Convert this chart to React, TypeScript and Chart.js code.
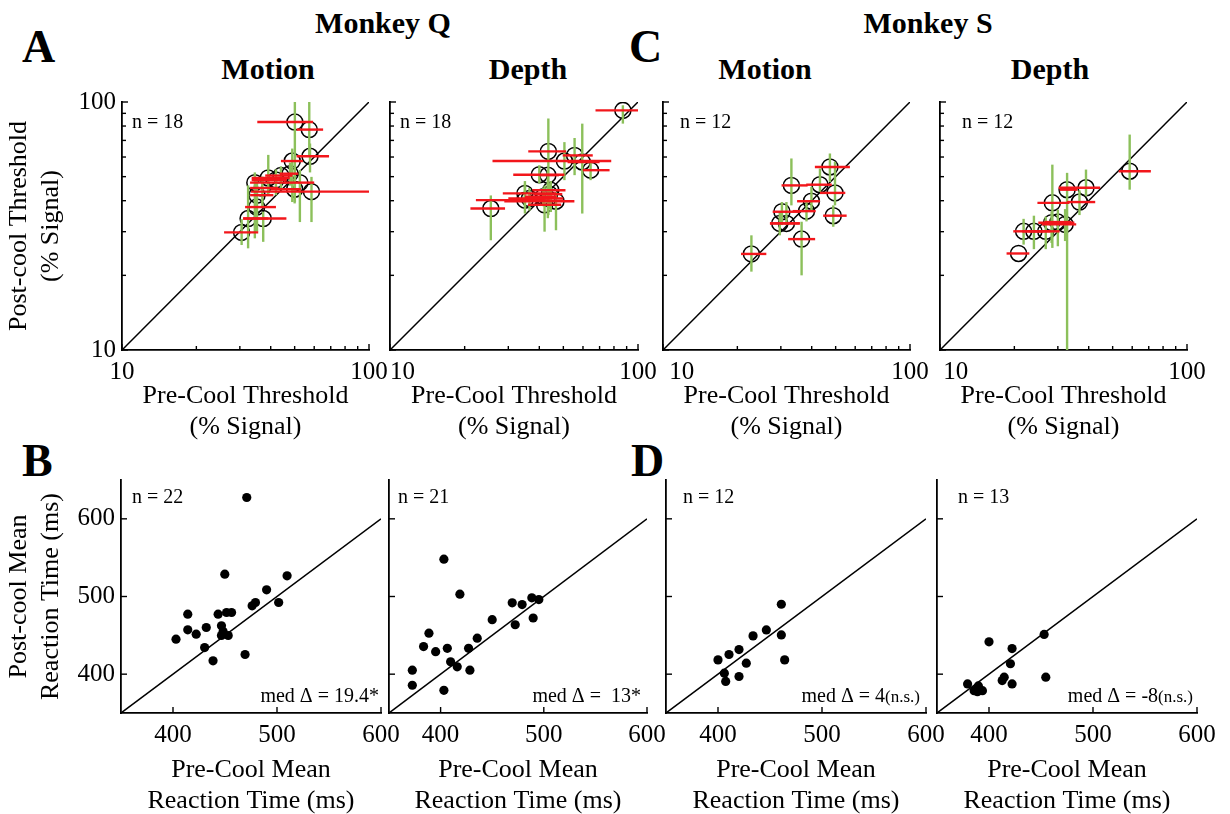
import { useEffect, useRef } from 'react';
import Chart from 'chart.js/auto';

const SERIF = '"Liberation Serif", "Times New Roman", Times, serif';
Chart.defaults.font.family = SERIF;
Chart.defaults.color = '#000';

const RED = '#f2161b';
const GREEN = '#8cc05b';

// axes
const THR_RANGE = [10, 100];
const THR_TICKS = [10, 20, 30, 40, 50, 60, 70, 80, 90, 100];
const THR_LABELS = [10, 100];
const RT_X_RANGE = [350, 600];
const RT_Y_RANGE = [350, 650];
const RT_TICKS = [400, 500, 600];

// Monkey Q, motion thresholds (% signal)
const qMotionPre = [50.1, 57.3, 57.7, 48.9, 47.9, 52.5, 39.1, 34.5, 42.0, 58.5, 35.2, 32.4, 37.3, 30.5, 35.1, 44.0, 37.0, 50.0];
const qMotionPost = [83.0, 77.4, 60.4, 57.8, 51.4, 47.3, 49.4, 47.3, 48.5, 43.5, 42.1, 33.9, 33.9, 29.8, 37.7, 50.5, 45.0, 44.5];
const qMotionPreLo = [35.3, 50.9, 50.9, 44.0, 43.6, 45.5, 33.5, 33.0, 33.5, 33.3, 33.0, 30.9, 31.0, 25.9, 31.5, 38.0, 33.0, 40.0];
const qMotionPreHi = [59.4, 65.2, 68.9, 54.0, 51.7, 60.0, 47.8, 46.0, 46.5, 100, 41.0, 46.3, 39.1, 35.6, 42.0, 49.0, 43.0, 53.0];
const qMotionPostLo = [39.5, 60.9, 52.0, 39.5, 46.0, 32.8, 42.1, 28.2, 42.1, 32.8, 30.0, 25.7, 27.3, 26.5, 30.5, 45.0, 38.0, 39.0];
const qMotionPostHi = [100, 100, 68.0, 64.9, 57.0, 53.2, 61.2, 52.0, 53.5, 49.9, 48.0, 46.1, 36.1, 33.7, 44.0, 55.0, 50.0, 49.0];

// Monkey Q, depth thresholds
const qDepthPre = [86.9, 43.5, 50.5, 55.5, 59.6, 64.4, 40.0, 43.3, 35.0, 35.0, 43.3, 46.7, 25.5, 44.5, 42.0, 44.0, 41.5, 36.5];
const qDepthPost = [92.5, 63.2, 57.8, 60.9, 57.3, 53.1, 50.9, 50.7, 42.8, 40.2, 40.8, 39.8, 37.2, 44.1, 38.5, 42.5, 41.5, 40.8];
const qDepthPreLo = [67.4, 36.1, 25.9, 49.7, 52.0, 59.9, 31.4, 40.0, 28.5, 22.2, 37.0, 28.9, 21.1, 37.5, 36.0, 38.0, 35.0, 30.0];
const qDepthPreHi = [100, 51.3, 78.0, 65.7, 70.0, 76.8, 50.5, 48.0, 46.7, 42.0, 50.0, 55.4, 29.1, 51.0, 49.0, 49.5, 47.0, 44.0];
const qDepthPostLo = [81.8, 35.0, 48.4, 50.7, 35.5, 48.4, 46.9, 44.0, 38.0, 35.5, 34.0, 30.4, 27.7, 36.0, 30.0, 37.0, 38.0, 36.5];
const qDepthPostHi = [97.0, 85.8, 68.9, 71.6, 81.8, 57.8, 55.6, 53.0, 48.0, 46.8, 47.0, 43.3, 42.0, 48.0, 46.0, 47.0, 45.0, 45.0];

// Monkey S, motion thresholds
const sMotionPre = [22.8, 29.7, 31.6, 30.3, 33.1, 38.1, 39.9, 36.4, 43.2, 47.4, 49.7, 48.9];
const sMotionPost = [24.4, 32.4, 32.4, 36.1, 46.1, 36.3, 39.8, 28.0, 46.4, 54.7, 43.0, 34.8];
const sMotionPreLo = [20.7, 27.1, 27.1, 27.8, 30.2, 33.5, 34.9, 32.1, 38.0, 41.2, 43.2, 44.5];
const sMotionPreHi = [26.2, 35.8, 35.8, 35.8, 38.5, 41.5, 43.2, 41.3, 48.2, 57.1, 54.7, 55.4];
const sMotionPostLo = [20.7, 29.0, 31.9, 31.9, 38.3, 33.0, 36.6, 20.0, 43.4, 47.6, 38.3, 31.4];
const sMotionPostHi = [29.0, 36.0, 39.5, 39.5, 59.2, 40.0, 45.5, 32.9, 53.9, 62.0, 57.4, 38.3];

// Monkey S, depth thresholds
const sDepthPre = [58.6, 39.0, 32.7, 36.7, 28.5, 28.3, 32.1, 30.0, 26.8, 24.0, 21.8, 20.8];
const sDepthPost = [52.6, 45.1, 44.3, 39.5, 39.2, 32.6, 32.1, 32.8, 30.1, 30.1, 30.1, 24.5];
const sDepthPreLo = [52.9, 30.2, 30.5, 32.7, 24.8, 25.0, 25.8, 26.5, 23.0, 21.5, 19.8, 18.6];
const sDepthPreHi = [71.4, 44.5, 36.0, 42.5, 33.4, 35.0, 35.6, 34.0, 30.5, 28.0, 26.2, 23.0];
const sDepthPostLo = [44.3, 41.7, 10.0, 35.0, 25.8, 27.0, 27.5, 26.2, 25.5, 25.5, 26.6, 24.5];
const sDepthPostHi = [73.9, 53.4, 51.8, 44.0, 55.9, 36.0, 37.0, 36.8, 34.5, 34.8, 33.8, 24.5];

// mean reaction times (ms)
const qMotionRtPre = [470.9, 449.8, 509.7, 490.0, 479.3, 476.1, 501.6, 414.2, 443.4, 451.5, 456.3, 414.2, 432.0, 422.3, 402.9, 446.6, 448.2, 446.6, 453.1, 430.4, 438.5, 469.3];
const qMotionRtPost = [627.5, 528.8, 526.6, 508.6, 492.3, 488.0, 492.3, 477.3, 477.3, 479.4, 479.4, 457.1, 460.1, 451.5, 445.1, 462.2, 455.0, 449.8, 449.8, 434.3, 417.2, 425.3];
const qDepthRtPre = [403.2, 418.7, 469.4, 479.0, 488.4, 495.2, 489.7, 472.3, 450.0, 435.5, 388.7, 383.5, 395.2, 406.5, 427.1, 409.7, 416.1, 428.4, 372.6, 372.6, 403.2];
const qDepthRtPost = [548.1, 503.0, 491.8, 489.6, 498.3, 496.1, 472.3, 463.6, 470.1, 446.3, 452.8, 435.5, 429.0, 433.3, 433.3, 416.0, 409.5, 405.2, 405.2, 385.7, 379.2];
const sMotionRtPre = [460.9, 446.5, 460.9, 433.7, 420.2, 410.6, 400.0, 427.2, 464.1, 406.1, 420.2, 407.4];
const sMotionRtPost = [490.0, 457.0, 450.5, 449.3, 431.7, 425.3, 418.4, 414.1, 418.4, 401.3, 397.0, 390.6];
const sDepthRtPre = [453.0, 400.0, 422.2, 420.6, 414.6, 412.7, 422.2, 454.6, 379.4, 389.8, 385.7, 393.7, 388.9];
const sDepthRtPost = [451.2, 441.6, 433.0, 413.4, 396.1, 391.8, 387.4, 396.1, 387.4, 384.8, 378.7, 378.7, 377.4];

const PAD_T = 12;
const PAD_R = 25;

type PanelProps = {
  kind: 'thr' | 'rt';
  left: number;
  top: number;
  width: number;
  height: number;
  padL: number;
  padB: number;
  pre: number[];
  post: number[];
  preLo?: number[];
  preHi?: number[];
  postLo?: number[];
  postHi?: number[];
  yLabels?: boolean;
  firstPad?: number;
  nText: string;
  nDx: number;
  nDy: number;
  med?: string;
  medNote?: string;
  medDx?: number;
};

function Panel(p: PanelProps) {
  const ref = useRef<HTMLCanvasElement>(null);
  const w = p.padL + p.width + PAD_R;
  const h = PAD_T + p.height + p.padB;

  useEffect(() => {
    if (!ref.current) return;
    const thr = p.kind === 'thr';
    const xr = thr ? THR_RANGE : RT_X_RANGE;
    const yr = thr ? THR_RANGE : RT_Y_RANGE;
    const tickVals = thr ? THR_TICKS : RT_TICKS;
    const labelVals = thr ? THR_LABELS : RT_TICKS;
    const type = thr ? 'logarithmic' : 'linear';
    const tickFont = { size: 25 };
    const titleFont = { size: 26, lineHeight: 1.2 };
    const setTicks = (s: any) => {
      s.ticks = tickVals.map((value) => ({ value }));
    };
    const label = (v: number, first: number) =>
      labelVals.includes(v) ? (v === first && p.firstPad ? ' '.repeat(p.firstPad) + v : String(v)) : '';

    // error bars, inward tick marks and panel notes
    const decor = {
      id: 'decor',
      afterDatasetsDraw(chart: any) {
        if (!p.preLo || !p.preHi || !p.postLo || !p.postHi) return;
        const { ctx, chartArea: a, scales: { x, y } } = chart;
        ctx.save();
        ctx.beginPath();
        ctx.rect(a.left, a.top, a.right - a.left, a.bottom - a.top);
        ctx.clip();
        ctx.lineWidth = 2.4;
        ctx.strokeStyle = GREEN;
        p.pre.forEach((v, i) => {
          const px = x.getPixelForValue(v);
          ctx.beginPath();
          ctx.moveTo(px, y.getPixelForValue(p.postLo![i]));
          ctx.lineTo(px, y.getPixelForValue(p.postHi![i]));
          ctx.stroke();
        });
        ctx.strokeStyle = RED;
        p.post.forEach((v, i) => {
          const py = y.getPixelForValue(v);
          ctx.beginPath();
          ctx.moveTo(x.getPixelForValue(p.preLo![i]), py);
          ctx.lineTo(x.getPixelForValue(p.preHi![i]), py);
          ctx.stroke();
        });
        ctx.restore();
      },
      afterDraw(chart: any) {
        const { ctx, chartArea: a, scales: { x, y } } = chart;
        ctx.save();
        ctx.strokeStyle = '#000';
        ctx.lineWidth = 1.4;
        x.ticks.forEach((t: any) => {
          const px = x.getPixelForValue(t.value);
          const len = labelVals.includes(t.value) ? 6 : 4;
          ctx.beginPath();
          ctx.moveTo(px, a.bottom);
          ctx.lineTo(px, a.bottom - len);
          ctx.stroke();
        });
        y.ticks.forEach((t: any) => {
          const py = y.getPixelForValue(t.value);
          const len = labelVals.includes(t.value) ? 6 : 4;
          ctx.beginPath();
          ctx.moveTo(a.left, py);
          ctx.lineTo(a.left + len, py);
          ctx.stroke();
        });
        ctx.fillStyle = '#000';
        ctx.textBaseline = 'alphabetic';
        ctx.font = `20px ${SERIF}`;
        ctx.textAlign = 'left';
        ctx.fillText(p.nText, a.left + p.nDx, a.top + p.nDy);
        if (p.med) {
          ctx.textAlign = 'right';
          let rx = a.right - (p.medDx ?? 6);
          const by = a.bottom - 11;
          if (p.medNote) {
            ctx.font = `17px ${SERIF}`;
            ctx.fillText(p.medNote, rx, by);
            rx -= ctx.measureText(p.medNote).width;
            ctx.font = `20px ${SERIF}`;
          }
          ctx.fillText(p.med, rx, by);
        }
        ctx.restore();
      },
    };

    const chart = new Chart(ref.current, {
      type: 'scatter',
      data: {
        datasets: [
          {
            data: p.pre.map((x, i) => ({ x, y: p.post[i] })),
            pointRadius: thr ? 8 : 4.6,
            pointBorderWidth: thr ? 1.5 : 0,
            pointBorderColor: '#000',
            pointBackgroundColor: thr ? 'rgba(0,0,0,0)' : '#000',
          },
          {
            data: xr.map((v) => ({ x: v, y: v })),
            showLine: true,
            borderColor: '#000',
            borderWidth: 1.5,
            pointRadius: 0,
          },
        ],
      },
      options: {
        animation: false,
        responsive: false,
        events: [],
        layout: { padding: { left: 0, top: PAD_T, right: PAD_R, bottom: 0 } },
        plugins: { legend: { display: false }, tooltip: { enabled: false } },
        scales: {
          x: {
            type,
            min: xr[0],
            max: xr[1],
            grid: { display: false, drawTicks: false },
            border: { display: true, color: '#000', width: 1.8 },
            afterBuildTicks: setTicks,
            ticks: {
              autoSkip: false,
              maxRotation: 0,
              padding: 7,
              font: tickFont,
              color: '#000',
              callback: (v: any) => label(Number(v), xr[0]),
            },
            title: {
              display: true,
              text: thr ? ['Pre-Cool Threshold', '(% Signal)'] : ['Pre-Cool Mean', 'Reaction Time (ms)'],
              font: titleFont,
              color: '#000',
              padding: 0,
            },
            afterFit: (s: any) => {
              s.height = p.padB;
              s.paddingLeft = 0;
              s.paddingRight = 0;
            },
          },
          y: {
            type,
            min: yr[0],
            max: yr[1],
            grid: { display: false, drawTicks: false },
            border: { display: true, color: '#000', width: 1.8 },
            afterBuildTicks: setTicks,
            ticks: {
              display: !!p.yLabels,
              autoSkip: false,
              padding: 6,
              font: tickFont,
              color: '#000',
              callback: (v: any) => label(Number(v), -1),
            },
            title: {
              display: !!p.yLabels,
              text: thr ? ['Post-cool Threshold', '(% Signal)'] : ['Post-cool Mean', 'Reaction Time (ms)'],
              font: titleFont,
              color: '#000',
              padding: { top: 4, bottom: 0 },
            },
            afterFit: (s: any) => {
              s.width = p.padL;
              s.paddingTop = 0;
              s.paddingBottom = 0;
            },
          },
        },
      } as any,
      plugins: [decor],
    });
    return () => chart.destroy();
  }, [p]);

  return (
    <canvas
      ref={ref}
      width={w}
      height={h}
      style={{ position: 'absolute', left: p.left - p.padL, top: p.top - PAD_T, width: w, height: h }}
    />
  );
}

function Heading({ text, x, y, size, center }: { text: string; x: number; y: number; size: number; center?: boolean }) {
  return (
    <div
      style={{
        position: 'absolute',
        left: x,
        top: y,
        fontSize: size,
        fontWeight: 'bold',
        lineHeight: 1,
        whiteSpace: 'nowrap',
        transform: center ? 'translateX(-50%)' : undefined,
      }}
    >
      {text}
    </div>
  );
}

export default function App() {
  return (
    <div
      style={{
        position: 'absolute',
        left: 0,
        top: 0,
        width: 1230,
        height: 814,
        overflow: 'hidden',
        background: '#fff',
        fontFamily: SERIF,
        color: '#000',
      }}
    >
      <Heading text="Monkey Q" x={383} y={8} size={30} center />
      <Heading text="Monkey S" x={928} y={8} size={30} center />
      <Heading text="Motion" x={268} y={54} size={30} center />
      <Heading text="Depth" x={528} y={54} size={30} center />
      <Heading text="Motion" x={765} y={54} size={30} center />
      <Heading text="Depth" x={1050} y={54} size={30} center />
      <Heading text="A" x={22} y={24} size={46} />
      <Heading text="B" x={22} y={438} size={46} />
      <Heading text="C" x={629} y={24} size={46} />
      <Heading text="D" x={631} y={438} size={46} />

      <Panel kind="thr" left={122} top={102} width={247} height={248} padL={122} padB={93}
        pre={qMotionPre} post={qMotionPost} preLo={qMotionPreLo} preHi={qMotionPreHi}
        postLo={qMotionPostLo} postHi={qMotionPostHi} yLabels nText="n = 18" nDx={10} nDy={26} />
      <Panel kind="thr" left={390} top={102} width={248} height={248} padL={12} padB={93}
        pre={qDepthPre} post={qDepthPost} preLo={qDepthPreLo} preHi={qDepthPreHi}
        postLo={qDepthPostLo} postHi={qDepthPostHi} firstPad={4} nText="n = 18" nDx={10} nDy={26} />
      <Panel kind="thr" left={663} top={102} width={247} height={248} padL={12} padB={93}
        pre={sMotionPre} post={sMotionPost} preLo={sMotionPreLo} preHi={sMotionPreHi}
        postLo={sMotionPostLo} postHi={sMotionPostHi} firstPad={6} nText="n = 12" nDx={17} nDy={26} />
      <Panel kind="thr" left={940} top={102} width={247} height={248} padL={12} padB={93}
        pre={sDepthPre} post={sDepthPost} preLo={sDepthPreLo} preHi={sDepthPreHi}
        postLo={sDepthPostLo} postHi={sDepthPostHi} firstPad={5} nText="n = 12" nDx={22} nDy={26} />

      <Panel kind="rt" left={121} top={480} width={260} height={233} padL={121} padB={104}
        pre={qMotionRtPre} post={qMotionRtPost} yLabels nText="n = 22" nDx={11} nDy={23}
        med="med Δ = 19.4*" medDx={2} />
      <Panel kind="rt" left={389} top={480} width={258} height={233} padL={12} padB={104}
        pre={qDepthRtPre} post={qDepthRtPost} nText="n = 21" nDx={9} nDy={23}
        med="med Δ =  13*" medDx={6} />
      <Panel kind="rt" left={666} top={480} width={260} height={233} padL={12} padB={104}
        pre={sMotionRtPre} post={sMotionRtPost} nText="n = 12" nDx={17} nDy={23}
        med="med Δ = 4" medNote="(n.s.)" medDx={6} />
      <Panel kind="rt" left={937} top={480} width={260} height={233} padL={12} padB={104}
        pre={sDepthRtPre} post={sDepthRtPost} nText="n = 13" nDx={21} nDy={23}
        med="med Δ = -8" medNote="(n.s.)" medDx={4} />
    </div>
  );
}
